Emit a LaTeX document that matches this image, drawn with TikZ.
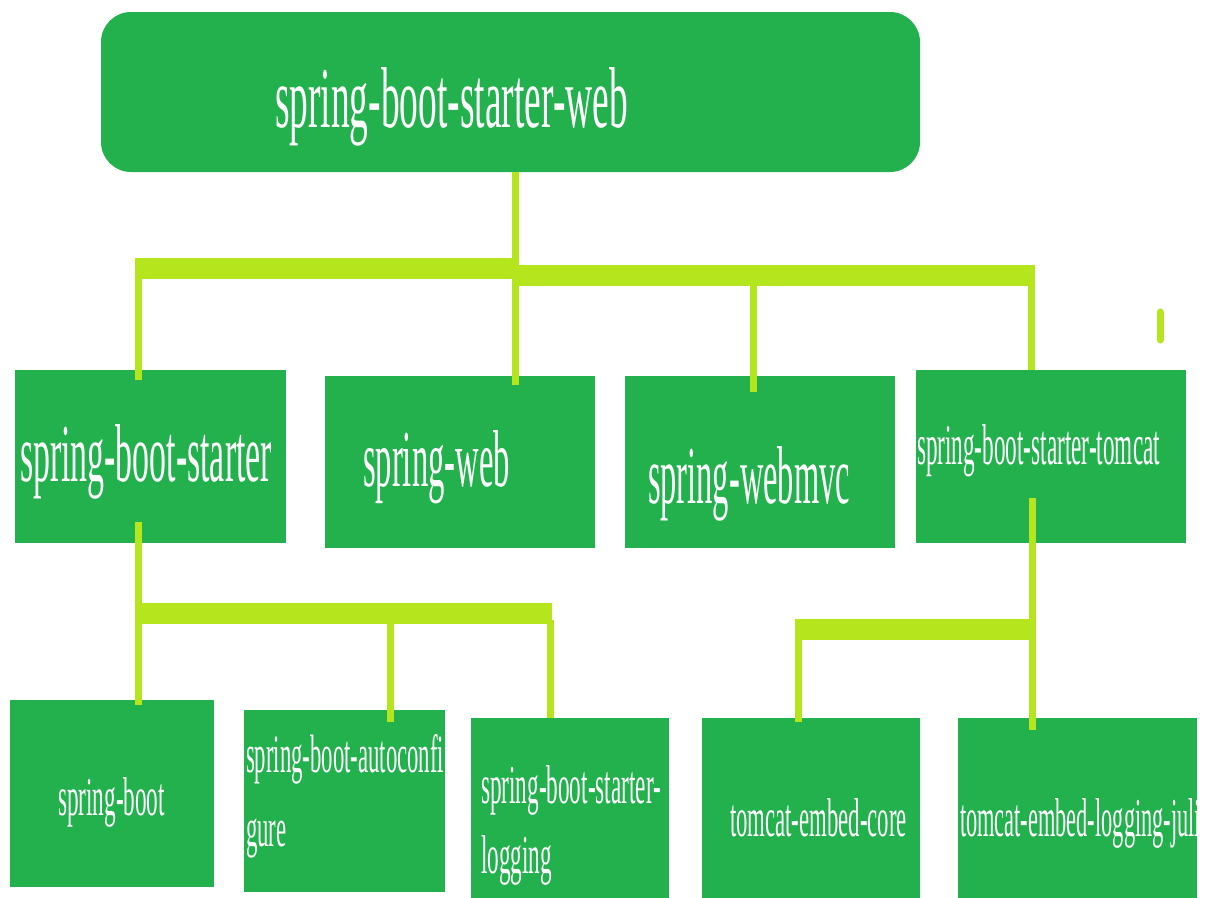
\documentclass[tikz,border=0pt]{standalone}
\usepackage{fontspec}
\setmainfont{Liberation Serif}
\usepackage{graphicx}
\definecolor{boxgreen}{RGB}{34,177,76}
\definecolor{lime}{RGB}{181,230,29}
\newsavebox\lblbox
\newcommand\lblfont{\fontsize{20}{20}\selectfont}
\newcommand\fitas[4]{%
  \sbox\lblbox{\lblfont #1}%
  \pgfmathsetmacro\lsx{#2/\the\wd\lblbox}%
  \pgfmathsetmacro\lsy{#3/\the\ht\lblbox}%
  \scalebox{\lsx}[\lsy]{\lblfont #4}}
\newcommand\fit[3]{\fitas{#3}{#1}{#2}{#3}}
\tikzset{
  gbox/.style={fill=boxgreen, draw=none, inner sep=0pt, outer sep=0pt},
  lbl/.style={anchor=base west, inner sep=0pt, outer sep=0pt, text=white},
  bar/.style={draw=lime, line width=21pt, line cap=butt},
  drop/.style={draw=lime, line width=7pt, line cap=butt},
}
\begin{document}
\begin{tikzpicture}[x=1pt,y=-1pt]
\useasboundingbox (0,0) rectangle (1207,897);
\clip (0,0) rectangle (1207,897);
% boxes
\node[gbox, rounded corners=30pt, minimum width=819pt, minimum height=160pt, anchor=north west] (top) at (101,12) {};
\node[gbox, minimum width=271pt, minimum height=173pt, anchor=north west] (sbs) at (15,370) {};
\node[gbox, minimum width=270pt, minimum height=172pt, anchor=north west] (sw) at (325,376) {};
\node[gbox, minimum width=270pt, minimum height=172pt, anchor=north west] (swm) at (625,376) {};
\node[gbox, minimum width=270pt, minimum height=173pt, anchor=north west] (sbst) at (916,370) {};
\node[gbox, minimum width=204pt, minimum height=187pt, anchor=north west] (sb) at (10,700) {};
\node[gbox, minimum width=201pt, minimum height=182pt, anchor=north west] (sba) at (244,710) {};
\node[gbox, minimum width=198pt, minimum height=182pt, anchor=north west] (sbsl) at (471,718) {};
\node[gbox, minimum width=218pt, minimum height=182pt, anchor=north west] (tec) at (702,718) {};
\node[gbox, minimum width=239pt, minimum height=182pt, anchor=north west] (tej) at (958,718) {};
% labels
\node[lbl] (ltop) at (275,127) {\fit{353}{60}{spring-boot-starter-web}};
\node[lbl] (lsbs) at (20,481) {\fit{252}{57}{spring-boot-starter}};
\node[lbl] (lsw) at (363,486) {\fit{147}{56}{spring-web}};
\node[lbl] (lswm) at (648,503) {\fit{202}{57}{spring-webmvc}};
\node[lbl] (lsbst) at (917,464) {\fit{243}{40}{spring-boot-starter-tomcat}};
\node[lbl] (lsb) at (58,815) {\fit{107}{38}{spring-boot}};
\node[lbl] (lsba1) at (246,772) {\fit{198}{38}{spring-boot-autoconfi}};
\node[lbl] (lsba2) at (246,846) {\fitas{spring-boot-autoconfi}{198}{38}{gure}};
\node[lbl] (lsbsl1) at (481,803) {\fit{180}{38}{spring-boot-starter-}};
\node[lbl] (lsbsl2) at (481,873) {\fitas{spring-boot-starter-}{180}{38}{logging}};
\node[lbl] (ltec) at (730,836) {\fit{177}{38}{tomcat-embed-core}};
\node[lbl] (ltej) at (960,836) {\fit{241}{38}{tomcat-embed-logging-juli}};
% coordinates
\coordinate (j1) at (515,268);
\coordinate (j1l) at (137,268);
\coordinate (j1r) at (515,275);
\coordinate (j1e) at (1035,275);
\coordinate (dot1) at (1160,312);
\coordinate (dot2) at (1160,340);
\coordinate (j2l) at (138,613);
\coordinate (j2r) at (552,613);
\coordinate (j3r) at (1032,629);
\coordinate (j3l) at (795,629);
% top connectors
\draw[drop] (top.south -| j1) -- (j1);
\draw[bar] (j1l) -- (j1);
\draw[bar] (j1r) -- (j1e);
\draw[drop] (138,258) -- (sbs.north -| 138,0) -- ++(0,10);
\draw[drop] (j1) -- (sw.north -| 515,0) -- ++(0,9);
\draw[drop] (753,280) -- (swm.north -| 753,0) -- ++(0,16);
\draw[drop] (1031,280) -- (sbst.north -| 1031,0);
\draw[drop, line cap=round] (dot1) -- (dot2);
% lower left
\draw[drop] (138,522) -- (sb.north -| 138,0) -- ++(0,5);
\draw[bar] (j2l) -- (j2r);
\draw[drop] (390,620) -- (sba.north -| 390,0) -- ++(0,12);
\draw[drop] (550,620) -- (sbsl.north -| 550,0);
% lower right
\draw[drop] (1032,498) -- (tej.north -| 1032,0) -- ++(0,12);
\draw[bar] (j3l) -- (j3r);
\draw[drop] (798,635) -- (tec.north -| 798,0) -- ++(0,4);
\end{tikzpicture}
\end{document}
